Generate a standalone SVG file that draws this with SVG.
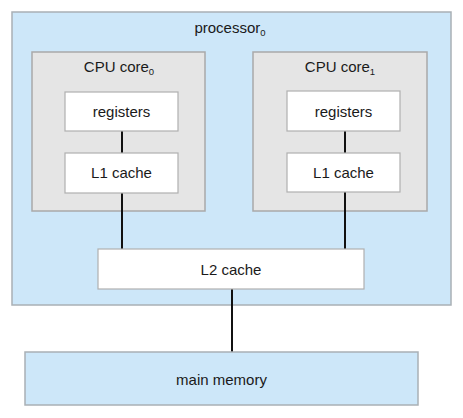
<svg xmlns="http://www.w3.org/2000/svg" width="463" height="418" viewBox="0 0 463 418">
<style>
.blue{fill:#cde7f9;stroke:#a9b0b5;stroke-width:1.5}
.core{fill:#e5e5e5;stroke:#a9a9a9;stroke-width:1.5}
.box{fill:#ffffff;stroke:#b0b0b0;stroke-width:1.2}
.t{font-family:"Liberation Sans",Arial,sans-serif;font-size:15px;fill:#1a1a1a;text-anchor:middle}
.s{font-size:9.5px}
.c{stroke:#111;stroke-width:2;fill:none}
</style>
<rect width="463" height="418" fill="#ffffff"/>
<g id="processor0">
<rect class="blue" x="12" y="12" width="439" height="293"/>
<text class="t" x="230" y="33">processor<tspan class="s" dy="3">0</tspan></text>
</g>
<g id="core0">
<rect class="core" x="32" y="52" width="173" height="159"/>
<text class="t" x="119" y="72">CPU core<tspan class="s" dy="3">0</tspan></text>
</g>
<g id="core1">
<rect class="core" x="253" y="52" width="174" height="159"/>
<text class="t" x="340" y="72">CPU core<tspan class="s" dy="3">1</tspan></text>
</g>
<g id="connectors">
<line class="c" x1="122" y1="131" x2="122" y2="153"/>
<line class="c" x1="122" y1="193" x2="122" y2="249"/>
<line class="c" x1="345" y1="131" x2="345" y2="153"/>
<line class="c" x1="345" y1="192" x2="345" y2="249"/>
<line class="c" x1="232" y1="289" x2="232" y2="352"/>
</g>
<g id="registers0">
<rect class="box" x="65" y="92" width="113" height="39"/>
<text class="t" x="121.5" y="117">registers</text>
</g>
<g id="l1cache0">
<rect class="box" x="65" y="153" width="113" height="40"/>
<text class="t" x="121.5" y="178">L1 cache</text>
</g>
<g id="registers1">
<rect class="box" x="287" y="91" width="113" height="40"/>
<text class="t" x="343.5" y="117">registers</text>
</g>
<g id="l1cache1">
<rect class="box" x="287" y="153" width="113" height="39"/>
<text class="t" x="343.5" y="178">L1 cache</text>
</g>
<g id="l2cache">
<rect class="box" x="98" y="249" width="266" height="40"/>
<text class="t" x="231" y="275">L2 cache</text>
</g>
<g id="mainmemory">
<rect class="blue" x="25" y="352" width="393" height="53"/>
<text class="t" x="221.5" y="385">main memory</text>
</g>
</svg>
